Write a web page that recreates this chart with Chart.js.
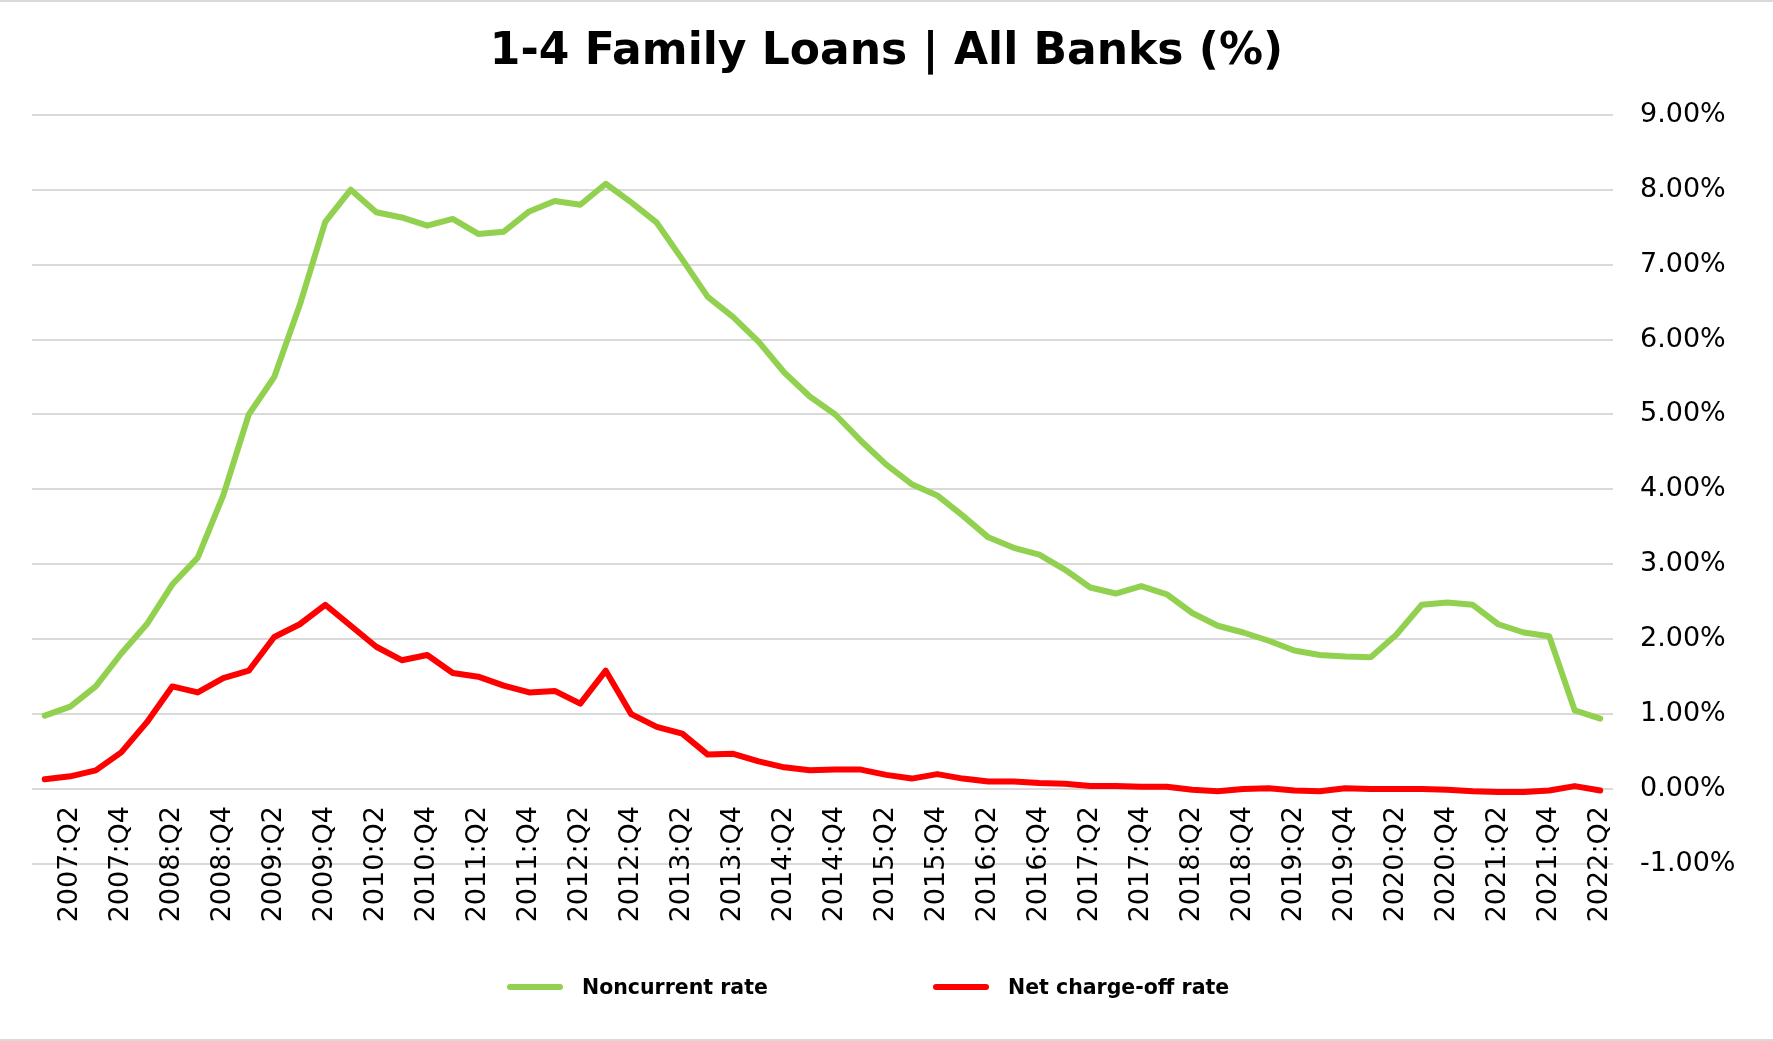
<!DOCTYPE html>
<html>
<head>
<meta charset="utf-8">
<title>1-4 Family Loans | All Banks (%)</title>
<script src="https://cdn.jsdelivr.net/npm/chart.js@4.4.1/dist/chart.umd.min.js"></script>
<style>
  html, body { margin: 0; padding: 0; background: #fff; }
  #wrap { position: relative; width: 1773px; height: 1041px; overflow: hidden; }
  #wrap:before, #wrap:after { content: ""; position: absolute; left: 0; right: 0; height: 2px; background: #d9d9d9; }
  #wrap:before { top: 0; }
  #wrap:after { bottom: 0; }
  #myChart { position: absolute; left: 0; top: 0; }
  .leyenda { position: absolute; top: 975px; display: flex; align-items: center;
    font-family: 'DejaVu Sans', Verdana, sans-serif; font-weight: bold; font-size: 20.5px; color: #000; height: 24px; }
  .muestra { width: 56px; height: 6px; border-radius: 3px; margin-right: 19px; }
</style>
</head>
<body>
<div id="wrap">
  <canvas id="myChart" width="1773" height="1041"></canvas>
  <div class="leyenda" style="left:507px"><span class="muestra" style="background:#92D050"></span>Noncurrent rate</div>
  <div class="leyenda" style="left:933px"><span class="muestra" style="background:#FF0000"></span>Net charge-off rate</div>
</div>
<script>
// Trimestres 2007:Q1 - 2022:Q2
const trimestres = [
  "2007:Q1","2007:Q2","2007:Q3","2007:Q4","2008:Q1","2008:Q2","2008:Q3","2008:Q4",
  "2009:Q1","2009:Q2","2009:Q3","2009:Q4","2010:Q1","2010:Q2","2010:Q3","2010:Q4",
  "2011:Q1","2011:Q2","2011:Q3","2011:Q4","2012:Q1","2012:Q2","2012:Q3","2012:Q4",
  "2013:Q1","2013:Q2","2013:Q3","2013:Q4","2014:Q1","2014:Q2","2014:Q3","2014:Q4",
  "2015:Q1","2015:Q2","2015:Q3","2015:Q4","2016:Q1","2016:Q2","2016:Q3","2016:Q4",
  "2017:Q1","2017:Q2","2017:Q3","2017:Q4","2018:Q1","2018:Q2","2018:Q3","2018:Q4",
  "2019:Q1","2019:Q2","2019:Q3","2019:Q4","2020:Q1","2020:Q2","2020:Q3","2020:Q4",
  "2021:Q1","2021:Q2","2021:Q3","2021:Q4","2022:Q1","2022:Q2"
];

// Noncurrent rate (%)
const noncurrent = [
  0.98, 1.10, 1.37, 1.81, 2.20, 2.73, 3.09, 3.92, 5.00, 5.50,
  6.46, 7.57, 8.00, 7.70, 7.63, 7.52, 7.61, 7.41, 7.44, 7.71,
  7.85, 7.80, 8.08, 7.83, 7.56, 7.07, 6.57, 6.30, 5.97, 5.56,
  5.24, 5.00, 4.65, 4.33, 4.07, 3.92, 3.65, 3.36, 3.22, 3.13,
  2.93, 2.69, 2.61, 2.71, 2.60, 2.35, 2.18, 2.09, 1.98, 1.85,
  1.79, 1.77, 1.76, 2.06, 2.46, 2.49, 2.46, 2.20, 2.09, 2.04,
  1.05, 0.94
];

// Net charge-off rate (%)
const chargeOff = [
  0.13, 0.17, 0.25, 0.49, 0.89, 1.37, 1.29, 1.48, 1.58, 2.03,
  2.20, 2.46, 2.18, 1.90, 1.72, 1.79, 1.55, 1.50, 1.38, 1.29,
  1.31, 1.14, 1.58, 1.00, 0.83, 0.74, 0.46, 0.47, 0.37, 0.29,
  0.25, 0.26, 0.26, 0.19, 0.14, 0.20, 0.14, 0.10, 0.10, 0.08,
  0.07, 0.04, 0.04, 0.03, 0.03, -0.01, -0.03, 0.00, 0.01, -0.02,
  -0.03, 0.01, 0.00, 0.00, 0.00, -0.01, -0.03, -0.04, -0.04, -0.02,
  0.04, -0.02
];

// eje Y
const yMin = -1;
const yMax = 9;
const yPaso = 1;

Chart.defaults.font.family = "'DejaVu Sans', Verdana, sans-serif";
Chart.defaults.color = "#000";

const ctx = document.getElementById('myChart').getContext('2d');
const myChart = new Chart(ctx, {
  type: 'line',
  data: {
    labels: trimestres,
    datasets: [
      {
        label: 'Noncurrent rate',
        data: noncurrent,
        borderColor: '#92D050',
        backgroundColor: '#92D050',
        borderWidth: 6,
        pointRadius: 0,
        tension: 0,
        borderCapStyle: 'round',
        borderJoinStyle: 'round'
      },
      {
        label: 'Net charge-off rate',
        data: chargeOff,
        borderColor: '#FF0000',
        backgroundColor: '#FF0000',
        borderWidth: 6,
        pointRadius: 0,
        tension: 0,
        borderCapStyle: 'round',
        borderJoinStyle: 'round'
      }
    ]
  },
  options: {
    responsive: false,
    animation: false,
    // mismo margen izq/der para que el titulo quede centrado en el lienzo
    layout: { padding: { left: 32, right: 32, top: 0, bottom: 177 } },
    plugins: {
      legend: { display: false },
      tooltip: { enabled: false },
      title: {
        display: true,
        text: '1-4 Family Loans | All Banks (%)',
        font: { size: 44, weight: 'bold' },
        color: '#000',
        padding: { top: 26, bottom: 36 }
      }
    },
    scales: {
      x: {
        type: 'category',
        offset: true,
        position: { y: 0 },
        grid: { display: false, drawTicks: false },
        border: { display: false },
        ticks: {
          autoSkip: false,
          minRotation: 90,
          maxRotation: 90,
          padding: 17,
          font: { size: 27 },
          color: '#000',
          callback: function(val, i) {
            // solo Q2 y Q4
            return i % 2 === 1 ? this.getLabelForValue(val) : '';
          }
        }
      },
      y: {
        position: 'right',
        min: yMin,
        max: yMax,
        afterFit: function(eje) { eje.width = 128; },
        grid: { color: '#d9d9d9', lineWidth: 2, drawTicks: false },
        border: { display: false },
        ticks: {
          stepSize: yPaso,
          padding: 27,
          font: { size: 27 },
          color: '#000',
          callback: v => v.toFixed(2) + '%'
        }
      }
    }
  }
});
</script>
</body>
</html>
